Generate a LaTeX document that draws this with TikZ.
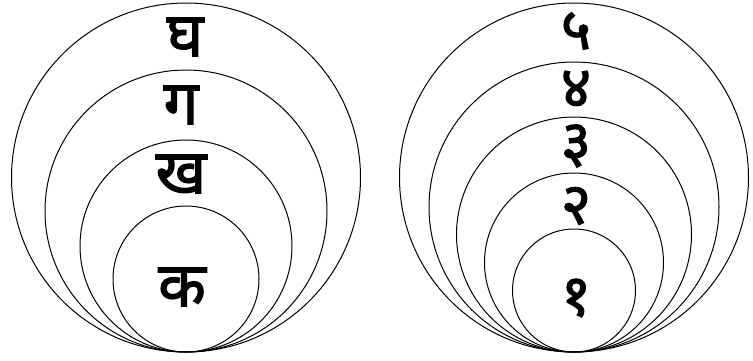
\documentclass[tikz,border=0pt]{standalone}
\usepackage{fontspec}
\newfontfamily\devfont[Script=Devanagari, FakeBold=2]{Noto Sans}

\begin{document}
\begin{tikzpicture}[x=1pt, y=-1pt, line width=1pt]
  \tikzset{glyph/.style={font=\devfont\fontsize{62}{64}\selectfont, inner sep=0pt},
           digit/.style={glyph, font=\devfont\fontsize{58}{60}\selectfont}}
  \useasboundingbox (0,0) rectangle (753,360);

  % Left: letters, all circles touching at the bottom
  \foreach \r in {174.5, 141, 106, 73}
    \draw (186,352-\r) circle (\r pt);
  \node[glyph] (gha) at (185, 37) {घ};
  \node[glyph] (ga)  at (181,105) {ग};
  \node[glyph] (kha) at (181,174) {ख};
  \node[glyph] (ka)  at (182,287) {क};

  % Right: digits, same idea
  \foreach \r in {174.5, 145, 117.5, 89.5, 61.5}
    \draw (574,352-\r) circle (\r pt);
  \node[digit] (five)  at (576, 31) {५};
  \node[digit] (four)  at (576, 89) {४};
  \node[digit] (three) at (576,146) {३};
  \node[digit] (two)   at (576,206) {२};
  \node[digit] (one)   at (576,298) {१};
\end{tikzpicture}
\end{document}
